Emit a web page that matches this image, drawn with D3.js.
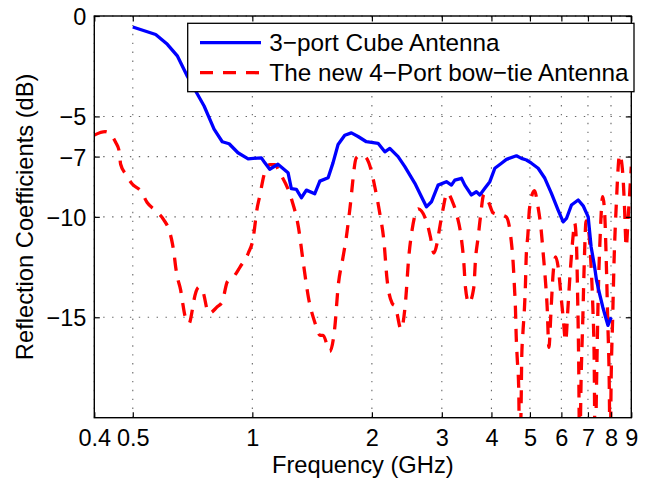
<!DOCTYPE html>
<html>
<head>
<meta charset="utf-8">
<script src="https://cdn.jsdelivr.net/npm/d3@7"></script>
<style>
  body { margin: 0; background: #fff; }
  svg text { font-family: 'Liberation Sans', Arial, Helvetica, sans-serif; fill: #000; }
</style>
</head>
<body>
<div id="chart"></div>
<script>
// tick values
const xTicks = [0.4, 0.5, 1, 2, 3, 4, 5, 6, 7, 8, 9]
const yTicks = [-15, -10, -7, -5, 0]

const seriesNames = ['3\u2212port Cube Antenna', 'The new 4\u2212Port bow\u2212tie Antenna']

// [frequency GHz, dB]
const cubeAntenna = [
  [0.50, -0.55], [0.571, -0.92], [0.611, -1.41], [0.648, -2.0], [0.686, -3.0],
  [0.756, -4.48], [0.801, -5.63], [0.840, -6.26], [0.874, -6.36], [0.920, -6.81],
  [0.976, -7.11], [1.054, -7.06], [1.074, -7.3], [1.106, -7.63], [1.160, -7.38],
  [1.230, -7.8], [1.254, -8.6], [1.291, -8.63], [1.329, -9.05], [1.368, -8.67],
  [1.436, -8.85], [1.479, -8.22], [1.552, -8.05], [1.597, -7.3], [1.644, -6.4],
  [1.709, -5.94], [1.776, -5.82], [1.846, -6.0], [1.937, -6.26], [2.073, -6.34],
  [2.156, -6.76], [2.219, -6.59], [2.328, -7.0], [2.421, -7.5], [2.566, -8.33],
  [2.666, -9.0], [2.744, -9.5], [2.825, -9.25], [2.936, -8.42], [3.081, -8.25],
  [3.172, -8.42], [3.235, -8.17], [3.362, -8.08], [3.428, -8.42], [3.562, -8.91],
  [3.666, -8.75], [3.740, -8.91], [3.850, -8.58], [3.963, -8.25], [4.080, -7.58],
  [4.240, -7.33], [4.364, -7.14], [4.624, -6.96], [4.760, -7.09], [4.900, -7.17],
  [5.044, -7.33], [5.244, -7.58], [5.452, -8.08], [5.664, -8.83], [5.888, -9.66],
  [6.063, -10.25], [6.180, -10.08], [6.362, -9.41], [6.615, -9.16], [6.809, -9.45],
  [7.009, -10.0], [7.13, -11.5], [7.27, -12.45], [7.355, -13.15], [7.48, -13.8],
  [7.63, -14.5], [7.78, -15.1], [7.86, -15.4], [7.93, -15.2], [8.01, -15.0]
]

const bowtieAntenna = [
  [0.400, -5.93], [0.426, -5.76], [0.453, -6.3], [0.462, -6.72], [0.466, -7.38],
  [0.480, -7.88], [0.499, -8.38], [0.524, -8.72], [0.544, -9.3], [0.571, -9.7],
  [0.599, -10.16], [0.617, -10.66], [0.629, -11.32], [0.635, -11.82], [0.641, -12.48],
  [0.647, -12.97], [0.660, -13.65], [0.666, -14.14], [0.676, -14.89], [0.693, -15.3],
  [0.706, -14.64], [0.713, -14.14], [0.734, -13.5], [0.753, -13.8], [0.770, -14.64],
  [0.778, -14.8], [0.816, -14.48], [0.840, -14.23], [0.865, -13.23], [0.896, -13.0],
  [0.931, -12.5], [0.977, -11.8], [1.006, -11.0], [1.014, -10.5], [1.024, -9.8],
  [1.044, -8.96], [1.074, -7.8], [1.106, -7.4], [1.139, -7.4], [1.172, -7.8],
  [1.257, -9.16], [1.306, -10.5], [1.344, -12.3], [1.384, -14.0], [1.439, -15.3],
  [1.481, -15.9], [1.507, -15.9], [1.567, -16.7], [1.613, -15.5], [1.644, -13.5],
  [1.692, -12.0], [1.725, -11.0], [1.759, -9.66], [1.828, -7.06], [1.868, -6.95],
  [1.920, -7.0], [1.980, -7.5], [2.034, -8.5], [2.094, -9.83], [2.143, -11.15],
  [2.185, -13.15], [2.249, -14.3], [2.292, -14.47], [2.369, -15.6], [2.429, -14.3],
  [2.477, -12.0], [2.525, -10.66], [2.615, -9.6], [2.755, -10.33], [2.808, -11.0],
  [2.864, -11.8], [2.919, -11.3], [2.948, -10.8], [3.018, -9.66], [3.094, -8.8],
  [3.185, -9.2], [3.278, -9.96], [3.356, -11.0], [3.409, -12.3], [3.440, -13.5],
  [3.509, -14.3], [3.612, -13.5], [3.646, -12.15], [3.704, -11.0], [3.753, -10.0],
  [3.828, -8.88], [3.940, -9.3], [4.040, -9.8], [4.208, -9.9], [4.356, -10.0],
  [4.484, -11.15], [4.537, -12.3], [4.571, -13.5], [4.598, -14.6], [4.617, -15.9],
  [4.644, -17.0], [4.685, -18.5], [4.712, -22], [4.754, -19], [4.768, -17],
  [4.800, -15.8], [4.845, -14.5], [4.873, -13.3], [4.893, -12.0], [4.941, -10.9],
  [4.987, -9.6], [5.133, -8.7], [5.236, -9.46], [5.337, -10.66], [5.399, -11.8],
  [5.462, -13.0], [5.526, -14.5], [5.581, -16.5], [5.656, -14.5], [5.721, -12.8],
  [5.805, -12.0], [5.889, -12.5], [5.992, -14.0], [6.062, -15.0], [6.151, -16.2],
  [6.230, -14.6], [6.313, -12.8], [6.412, -11.1], [6.480, -10.3], [6.548, -11.3],
  [6.594, -14.0], [6.632, -17.0], [6.671, -22], [6.729, -18], [6.796, -15],
  [6.847, -12.5], [6.927, -10.2], [7.009, -10.5], [7.13, -12.5], [7.201, -14.5],
  [7.256, -17], [7.298, -22], [7.362, -18], [7.427, -14], [7.513, -11],
  [7.623, -9.0], [7.712, -9.8], [7.779, -12], [7.847, -15], [7.916, -18],
  [7.962, -22], [8.009, -18], [8.079, -15], [8.150, -12], [8.245, -9.5],
  [8.413, -6.9], [8.562, -7.8], [8.652, -9.5], [8.738, -11.5], [8.840, -10],
  [9.0, -7.5]
]

let margin = { top: 16, left: 94.3, right: 16.7, bottom: 61.3 }
let width = 648 - margin.left - margin.right
let height = 479 - margin.top - margin.bottom

let svg = d3
  .select('#chart')
  .append('svg')
  .attr('width', 648)
  .attr('height', 479)

let g = svg
  .append('g')
  .attr('transform', 'translate(' + margin.left + ',' + margin.top + ')')

let x = d3.scaleLog().domain([0.4, 9]).range([0, width])
let y = d3.scaleLinear().domain([-20, 0]).range([height, 0])

// dotted grid
g.selectAll('.xgrid')
  .data(xTicks)
  .enter()
  .append('line')
  .attr('class', 'xgrid')
  .attr('x1', d => x(d))
  .attr('x2', d => x(d))
  .attr('y1', 0)
  .attr('y2', height)
  .attr('stroke', '#666')
  .attr('stroke-width', 1.1)
  .attr('stroke-dasharray', '1.4,7.5')

g.selectAll('.ygrid')
  .data(yTicks)
  .enter()
  .append('line')
  .attr('class', 'ygrid')
  .attr('x1', 0)
  .attr('x2', width)
  .attr('y1', d => y(d))
  .attr('y2', d => y(d))
  .attr('stroke', '#666')
  .attr('stroke-width', 1.1)
  .attr('stroke-dasharray', '1.4,7.5')

// curves
g.append('clipPath')
  .attr('id', 'plot-clip')
  .append('rect')
  .attr('width', width)
  .attr('height', height)

let line = d3
  .line()
  .x(d => x(d[0]))
  .y(d => y(d[1]))

g.append('path')
  .datum(bowtieAntenna)
  .attr('clip-path', 'url(#plot-clip)')
  .attr('d', line.curve(d3.curveMonotoneX))
  .attr('fill', 'none')
  .attr('stroke', '#ff0000')
  .attr('stroke-width', 3.3)
  .attr('stroke-dasharray', '13,10')

g.append('path')
  .datum(cubeAntenna)
  .attr('clip-path', 'url(#plot-clip)')
  .attr('d', line.curve(d3.curveLinear))
  .attr('fill', 'none')
  .attr('stroke', '#0000ff')
  .attr('stroke-width', 3.3)
  .attr('stroke-linejoin', 'round')

// axes, ticks pointing inward
let tickLen = -5.5

g.append('g')
  .attr('transform', 'translate(0,' + height + ')')
  .call(
    d3.axisBottom(x)
      .tickValues(xTicks)
      .tickFormat(d => d)
      .tickSizeInner(tickLen)
      .tickSizeOuter(0)
      .tickPadding(12)
  )

g.append('g')
  .call(d3.axisTop(x).tickValues(xTicks).tickFormat('').tickSizeInner(tickLen).tickSizeOuter(0))

let yAxis = g
  .append('g')
  .call(
    d3.axisLeft(y)
      .tickValues(yTicks)
      .tickFormat(d3.format('d'))
      .tickSizeInner(tickLen)
      .tickSizeOuter(0)
      .tickPadding(8)
  )

g.append('g')
  .attr('transform', 'translate(' + width + ',0)')
  .call(d3.axisRight(y).tickValues(yTicks).tickFormat('').tickSizeInner(tickLen).tickSizeOuter(0))

g.selectAll('.domain').remove()
g.selectAll('.tick line').attr('stroke', '#000').attr('stroke-width', 1.2)
g.selectAll('.tick text').attr('font-size', 23.5).attr('font-family', null)
yAxis.selectAll('.tick text').attr('dy', '0.36em')

g.append('rect')
  .attr('width', width)
  .attr('height', height)
  .attr('fill', 'none')
  .attr('stroke', '#000')
  .attr('stroke-width', 1.4)

// axis titles
svg.append('text')
  .attr('x', margin.left + width / 2)
  .attr('y', 473)
  .attr('text-anchor', 'middle')
  .attr('font-size', 23.7)
  .text('Frequency (GHz)')

svg.append('text')
  .attr('transform', 'translate(33,' + (margin.top + height / 2) + ') rotate(-90)')
  .attr('text-anchor', 'middle')
  .attr('font-size', 23.7)
  .text('Reflection Coefficients (dB)')

// legend
let legend = svg.append('g').attr('transform', 'translate(187.7,23.3)')

legend.append('rect')
  .attr('width', 446.3)
  .attr('height', 68.4)
  .attr('fill', '#fff')
  .attr('stroke', '#000')
  .attr('stroke-width', 1.3)

let rows = legend
  .selectAll('.row')
  .data(seriesNames)
  .enter()
  .append('g')
  .attr('class', 'row')
  .attr('transform', (d, i) => 'translate(0,' + (19.4 + i * 30) + ')')

rows.append('line')
  .attr('x1', 12.3)
  .attr('x2', 73.3)
  .attr('stroke', (d, i) => (i === 0 ? '#0000ff' : '#ff0000'))
  .attr('stroke-width', 3.3)
  .attr('stroke-dasharray', (d, i) => (i === 0 ? null : '13,10'))

rows.append('text')
  .attr('x', 81.6)
  .attr('y', 8.6)
  .attr('font-size', 24.3)
  .text(d => d)
</script>
</body>
</html>
